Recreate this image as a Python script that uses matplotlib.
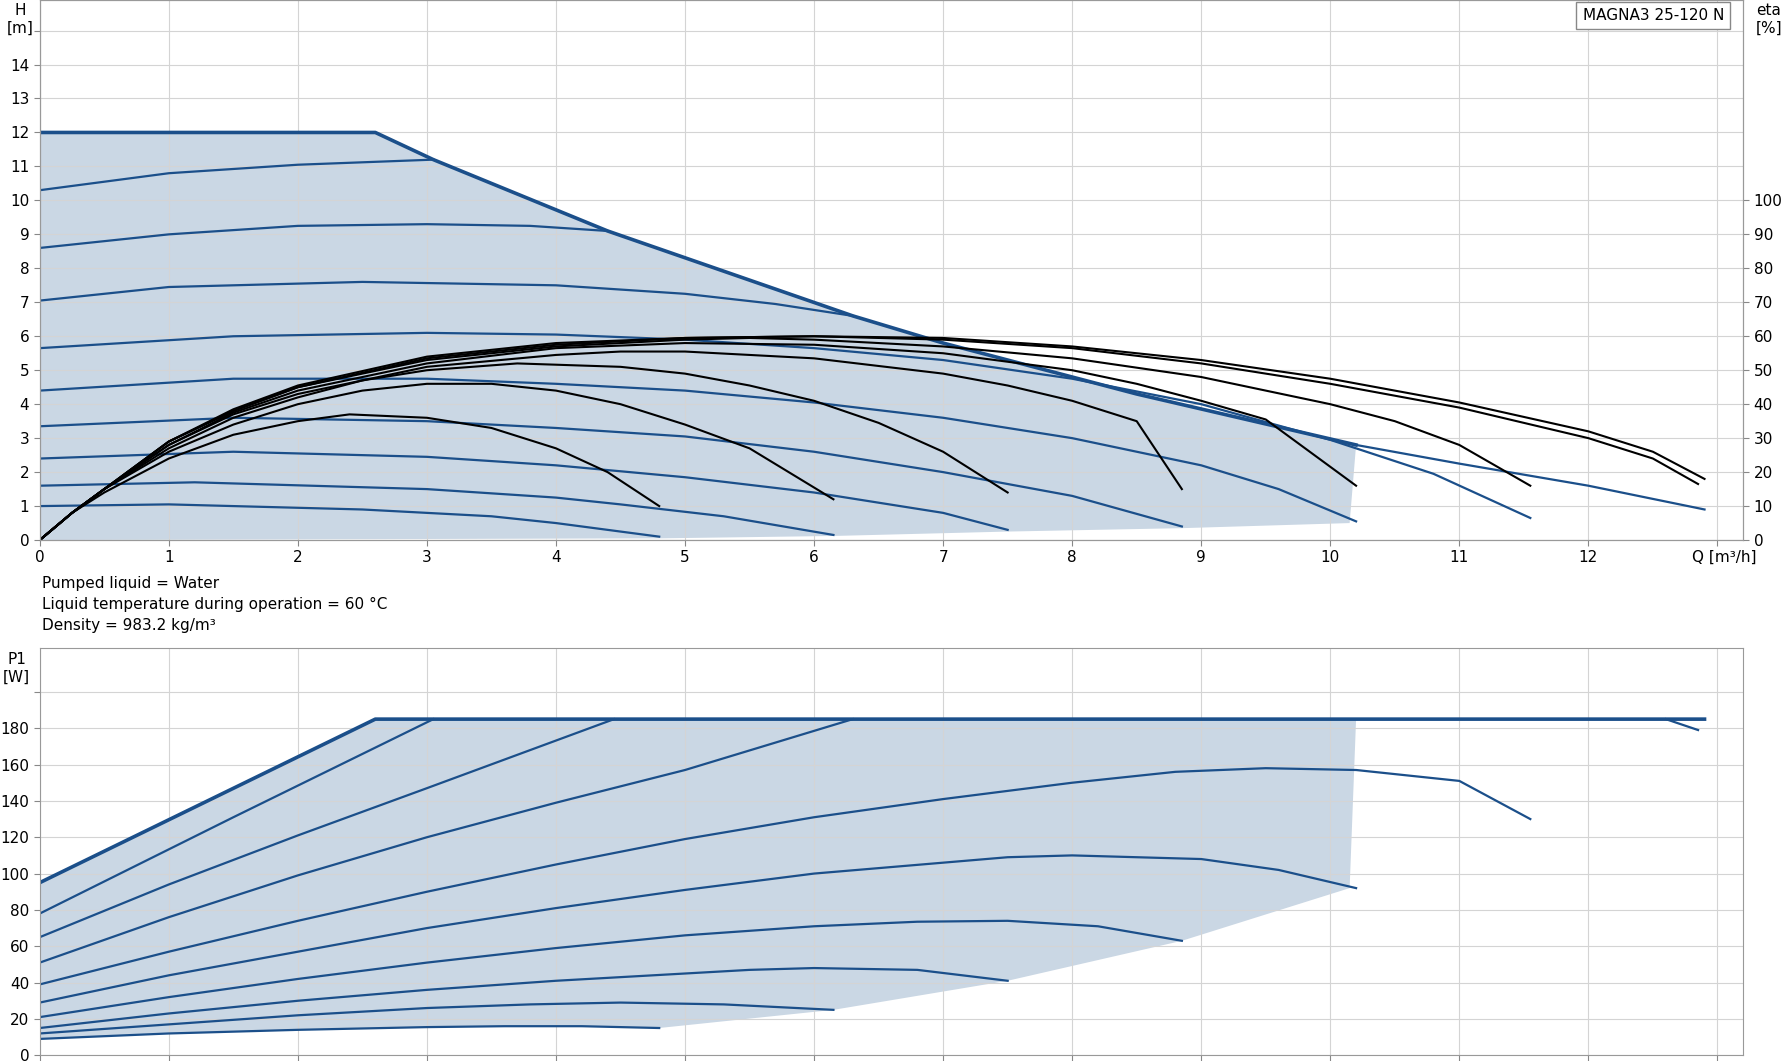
import matplotlib.pyplot as plt
import numpy as np

# ---- head curves H [m] vs Q [m3/h]
q_max = [0, 2.6, 3.05, 4.4, 6.3, 7.0, 8.5, 10.2, 11.0, 12.0, 12.9]
h_max = [12.0, 12.0, 11.2, 9.1, 6.6, 5.8, 4.3, 2.8, 2.25, 1.6, 0.9]

h_speed_q = [
    [0, 1, 2, 3.05],
    [0, 1, 2, 3, 3.8, 4.4],
    [0, 1, 2.5, 4, 5, 5.7, 6.3],
    [0, 1.5, 3, 4, 5, 6, 7, 8, 9, 10, 10.8, 11.55],
    [0, 1.5, 3, 4, 5, 6, 7, 8, 9, 9.6, 10.2],
    [0, 1.5, 3, 4, 5, 6, 7, 8, 8.85],
    [0, 1.5, 3, 4, 5, 6, 7, 7.5],
    [0, 1.2, 3, 4, 4.5, 5.3, 6.15],
    [0, 1, 2.5, 3.5, 4, 4.8],
]
h_speed_h = [
    [10.3, 10.8, 11.05, 11.2],
    [8.6, 9.0, 9.25, 9.3, 9.25, 9.1],
    [7.05, 7.45, 7.6, 7.5, 7.25, 6.95, 6.6],
    [5.65, 6.0, 6.1, 6.05, 5.9, 5.65, 5.3, 4.75, 4.0, 2.95, 1.95, 0.65],
    [4.4, 4.75, 4.75, 4.6, 4.4, 4.05, 3.6, 3.0, 2.2, 1.5, 0.55],
    [3.35, 3.6, 3.5, 3.3, 3.05, 2.6, 2.0, 1.3, 0.4],
    [2.4, 2.6, 2.45, 2.2, 1.85, 1.4, 0.8, 0.3],
    [1.6, 1.7, 1.5, 1.25, 1.05, 0.7, 0.15],
    [1.0, 1.05, 0.9, 0.7, 0.5, 0.1],
]

# ---- efficiency curves eta [%]
eta_q = [
    [0, 0.25, 0.5, 1, 1.5, 2, 2.4, 3, 3.5, 4, 4.4, 4.8],
    [0, 0.25, 0.5, 1, 1.5, 2, 2.5, 3, 3.5, 4, 4.5, 5, 5.5, 6.15],
    [0, 0.25, 0.5, 1, 1.5, 2, 2.5, 3, 3.7, 4.5, 5, 5.5, 6, 6.5, 7, 7.5],
    [0, 0.25, 0.5, 1, 1.5, 2, 3, 4, 4.5, 5, 6, 7, 7.5, 8, 8.5, 8.85],
    [0, 0.25, 0.5, 1, 1.5, 2, 3, 4, 5, 6, 7, 8, 8.5, 9, 9.5, 10.2],
    [0, 0.25, 0.5, 1, 1.5, 2, 3, 4, 5, 5.5, 6, 7, 8, 9, 10, 10.5, 11, 11.55],
    [0, 0.25, 0.5, 1, 1.5, 2, 3, 4, 5, 6, 7, 8, 9, 10, 11, 12, 12.5, 12.85],
    [0, 0.25, 0.5, 1, 1.5, 2, 3, 4, 5, 6, 7, 8, 9, 10, 11, 12, 12.5, 12.9],
]
eta_v = [
    [0, 8, 14, 24, 31, 35, 37, 36, 33, 27, 20, 10],
    [0, 8, 15, 26, 34, 40, 44, 46, 46, 44, 40, 34, 27, 12],
    [0, 8, 15, 27, 36, 42, 47, 50, 52, 51, 49, 45.5, 41, 34.5, 26, 14],
    [0, 8, 15, 28, 37, 43, 51, 54.5, 55.5, 55.5, 53.5, 49, 45.5, 41, 35, 15],
    [0, 8, 15, 28, 37.5, 44, 52, 56.5, 58, 57.5, 55, 50, 46, 41, 35.5, 16],
    [0, 8, 15, 29, 38, 45, 53, 57, 59, 59.5, 59, 57, 53.5, 48, 40, 35, 28, 16],
    [0, 8, 15, 29, 38, 45, 53.5, 57.5, 59.5, 60, 59, 56.5, 52, 46, 39, 30, 24, 16.5],
    [0, 8, 15, 29, 38.5, 45.5, 54, 58, 59.5, 60, 59.5, 57, 53, 47.5, 40.5, 32, 26, 18],
]

# ---- power curves P1 [W]
p_max_q = [0, 2.6, 12.6, 12.9]
p_max = [95, 185, 185, 185]
p_tail_q = [12.6, 12.85]
p_tail = [185, 179]

p_speed_q = [
    [0, 1.5, 3.05],
    [0, 1, 2, 3, 4.45],
    [0, 1, 2, 3, 4, 5, 6.3],
    [0, 1, 2, 3, 4, 5, 6, 7, 8, 8.8, 9.5, 10.2, 11, 11.55],
    [0, 1, 2, 3, 4, 5, 6, 7, 7.5, 8, 9, 9.6, 10.2],
    [0, 1, 2, 3, 4, 5, 6, 6.8, 7.5, 8.2, 8.85],
    [0, 1, 2, 3, 4, 5, 5.5, 6, 6.8, 7.5],
    [0, 1, 2, 3, 3.8, 4.5, 5.3, 6.15],
    [0, 1, 2, 3, 3.6, 4.2, 4.8],
]
p_speed = [
    [78, 131, 185],
    [65, 94, 121, 147, 185],
    [51, 76, 99, 120, 139, 157, 185],
    [39, 57, 74, 90, 105, 119, 131, 141, 150, 156, 158, 157, 151, 130],
    [29, 44, 57, 70, 81, 91, 100, 106, 109, 110, 108, 102, 92],
    [21, 32, 42, 51, 59, 66, 71, 73.5, 74, 71, 63],
    [15, 23, 30, 36, 41, 45, 47, 48, 47, 41],
    [12, 17, 22, 26, 28, 29, 28, 25],
    [9, 12, 14, 15.5, 16, 16, 15],
]

blue = '#1b4f8a'
fillc = '#cad7e4'
gridc = '#d4d4d4'

fig = plt.figure(figsize=(17.83, 10.61), dpi=100)
ax = fig.add_axes([0.0223, 0.491, 0.9554, 0.509])
axb = fig.add_axes([0.0223, 0.0054, 0.9554, 0.3836])

# top chart
i_end = q_max.index(10.2)
poly_q = q_max[:i_end + 1] + [10.15, 8.85, 7.5, 6.15, 4.8, 0]
poly_h = h_max[:i_end + 1] + [0.5, 0.35, 0.25, 0.12, 0.05, 0]
ax.fill(poly_q, poly_h, color=fillc, lw=0)
ax.plot(q_max[:i_end + 1], h_max[:i_end + 1], color=blue, lw=2.6)
ax.plot(q_max[i_end:], h_max[i_end:], color=blue, lw=1.6)
for q, h in zip(h_speed_q, h_speed_h):
    ax.plot(q, h, color=blue, lw=1.6)
for q, e in zip(eta_q, eta_v):
    ax.plot(q, np.array(e) / 10, color='black', lw=1.5)

ax.set_xlim(0, 13.2)
ax.set_ylim(0, 15.9)
ax.set_xticks(range(0, 14))
ax.set_xticklabels([str(i) for i in range(13)] + [''])
ax.set_yticks(range(0, 16))
ax.set_yticklabels([str(i) for i in range(15)] + [''])
ax.grid(color=gridc, lw=0.8)
ax.tick_params(labelsize=11, length=4, color='#888888')
ax.text(13.05, -0.3, 'Q [m³/h]', fontsize=11, ha='center', va='top')
ax.text(-0.15, 15.8, 'H\n[m]', fontsize=11, ha='center', va='top')
ax2 = ax.twinx()
ax2.set_ylim(0, 159)
ax2.set_yticks(range(0, 101, 10))
ax2.tick_params(labelsize=11, length=4, color='#888888')
ax2.text(13.4, 158, 'eta\n[%]', fontsize=11, ha='center', va='top')
ax.text(13.05, 15.45, 'MAGNA3 25-120 N', fontsize=11, ha='right', va='center',
        bbox=dict(facecolor='white', edgecolor='#888888', boxstyle='square,pad=0.4'))
for a in (ax, ax2):
    for s in a.spines.values():
        s.set_color('#999999')

fig.text(0.0236, 0.45, 'Pumped liquid = Water', fontsize=11, va='center')
fig.text(0.0236, 0.43, 'Liquid temperature during operation = 60 °C', fontsize=11, va='center')
fig.text(0.0236, 0.41, 'Density = 983.2 kg/m³', fontsize=11, va='center')

# bottom chart
pq = [0, 2.6, 10.2, 10.15, 8.85, 7.5, 6.15] + p_speed_q[8][::-1]
pp = [95, 185, 185, 92, 63, 41, 25] + p_speed[8][::-1]
axb.fill(pq, pp, color=fillc, lw=0)
axb.plot(p_max_q, p_max, color=blue, lw=2.6)
axb.plot(p_tail_q, p_tail, color=blue, lw=1.6)
for q, p in zip(p_speed_q, p_speed):
    axb.plot(q, p, color=blue, lw=1.6)
axb.set_xlim(0, 13.2)
axb.set_ylim(0, 224)
axb.set_xticks(range(0, 14))
axb.set_xticklabels([])
axb.set_yticks(range(0, 201, 20))
axb.set_yticklabels([str(i) for i in range(0, 181, 20)] + [''])
axb.grid(color=gridc, lw=0.8)
axb.tick_params(labelsize=11, length=4, color='#888888')
axb.text(-0.18, 222, 'P1\n[W]', fontsize=11, ha='center', va='top')
for s in axb.spines.values():
    s.set_color('#999999')

fig.savefig('out.png', dpi=100)
